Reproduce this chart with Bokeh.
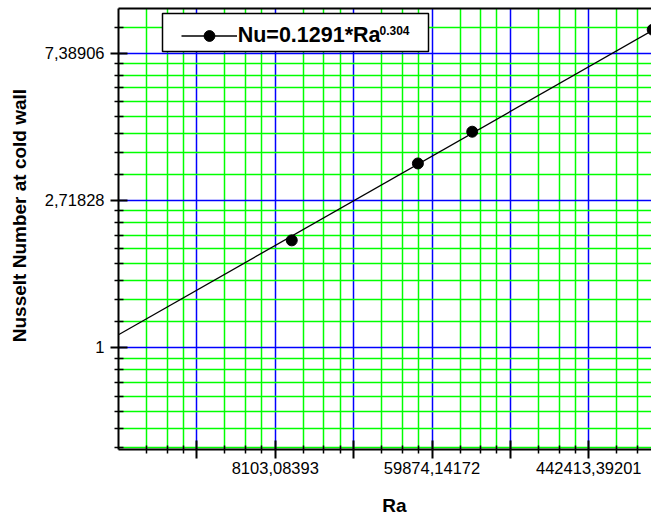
import math
from bokeh.plotting import figure
from bokeh.models import (FixedTicker, Legend, LegendItem, BoxAnnotation, Label,
                          LogAxis, Range1d)
from bokeh.embed import file_html
from bokeh.resources import INLINE

# ---- data ----
ra = [1.0e4, 5.0e4, 1.0e5, 1.0e6]
nu = [2.07, 3.49, 4.33, 8.66]
fit_ra = [1096.6, 1.0e6]
fit_nu = [1.09, 8.62]
legend_text = "Nu=0.1291*Ra"
legend_sup = "0.304"
x_title = "Ra"
y_title = "Nusselt Number at cold wall"

# axis ticks: powers of e
x_major_exp = [8, 9, 10, 11, 12, 13]
x_label_text = {9: "8103,08393", 11: "59874,14172", 13: "442413,39201"}
y_major_exp = [0, 1, 2]
y_label_text = {0: "1", 1: "2,71828", 2: "7,38906"}
x_lo, x_hi = math.exp(7), math.exp(13.8)
y_lo, y_hi = 0.5, 10.0
# where the original centres its axis titles (not at the frame centre)
x_title_at = math.exp(10.52)
y_title_at = math.exp(0.896)

x_major = [math.exp(k) for k in x_major_exp]
x_minor = []
for k in range(7, 14):
    a, b = math.exp(k), math.exp(k + 1)
    for j in range(1, 4):
        v = a + j * (b - a) / 4
        if x_lo < v < x_hi:
            x_minor.append(v)
y_major = [math.exp(k) for k in y_major_exp]
y_minor = []
for k in range(-1, 3):
    a, b = math.exp(k), math.exp(k + 1)
    for j in range(1, 9):
        v = a + j * (b - a) / 9
        if y_lo < v < y_hi:
            y_minor.append(v)

FONT = "Liberation Sans"

p = figure(width=651, height=520, x_axis_type="log", y_axis_type="log",
           x_range=Range1d(x_lo, x_hi), y_range=Range1d(y_lo, y_hi),
           output_backend="svg", toolbar_location=None,
           min_border_left=118, min_border_right=0, min_border_top=8,
           min_border_bottom=71)
p.outline_line_color = None
p.background_fill_color = "white"
p.border_fill_color = "white"

xt = FixedTicker(ticks=x_major, minor_ticks=x_minor)
yt = FixedTicker(ticks=y_major, minor_ticks=y_minor)

for ax, t in ((p.xaxis, xt), (p.yaxis, yt)):
    ax.ticker = t
    ax.axis_line_width = 2
    ax.axis_line_color = "black"
    ax.major_tick_line_width = 2
    ax.minor_tick_line_width = 1.5
    ax.major_tick_line_color = "black"
    ax.minor_tick_line_color = "black"
    ax.major_label_text_font = FONT
    ax.major_label_text_font_size = "16.5px"
    ax.major_label_text_color = "black"

p.xaxis.major_label_overrides = {math.exp(k): x_label_text.get(k, "") for k in x_major_exp}
p.yaxis.major_label_overrides = {math.exp(k): y_label_text.get(k, "") for k in y_major_exp}
p.xaxis.major_tick_in = 9
p.xaxis.major_tick_out = 9
p.xaxis.minor_tick_in = 4
p.xaxis.minor_tick_out = 4
p.xaxis.major_label_standoff = 3
p.yaxis.major_tick_in = 9
p.yaxis.major_tick_out = 8
p.yaxis.minor_tick_in = 5
p.yaxis.minor_tick_out = 4
p.yaxis.major_label_standoff = 6

p.xgrid.ticker = xt
p.ygrid.ticker = yt
for g in (p.xgrid, p.ygrid):
    g.grid_line_color = "#0000ff"
    g.grid_line_width = 1.5
    g.minor_grid_line_color = "#00ff00"
    g.minor_grid_line_width = 1.5


def title_axis(at, text, standoff, orientation):
    return LogAxis(ticker=FixedTicker(ticks=[at], minor_ticks=[]),
                   major_label_overrides={at: text},
                   axis_line_color=None, major_tick_line_color=None,
                   minor_tick_line_color=None,
                   major_tick_in=0, major_tick_out=0, minor_tick_in=0, minor_tick_out=0,
                   major_label_standoff=standoff, major_label_orientation=orientation,
                   major_label_text_font=FONT, major_label_text_font_size="19px",
                   major_label_text_font_style="bold", major_label_text_color="black")


p.add_layout(title_axis(x_title_at, x_title, 18, "horizontal"), "below")
p.add_layout(title_axis(y_title_at, y_title, 11, "parallel"), "left")

top_axis = LogAxis(ticker=FixedTicker(ticks=[]), axis_line_width=2, axis_line_color="black",
                   major_tick_in=0, major_tick_out=0, minor_tick_in=0, minor_tick_out=0,
                   major_label_text_font_size="0px", major_label_standoff=0)
p.add_layout(top_axis, "above")

line_r = p.line(fit_ra, fit_nu, line_color="black", line_width=1.3)
pts_r = p.scatter(ra, nu, size=11, fill_color="black", line_color="black")

box = BoxAnnotation(left=44, right=310, top=436, bottom=398,
                    left_units="screen", right_units="screen",
                    top_units="screen", bottom_units="screen",
                    fill_color="white", fill_alpha=1.0,
                    line_color="black", line_width=1.5, line_alpha=1.0)
p.add_layout(box)

legend = Legend(items=[LegendItem(label=legend_text, renderers=[line_r, pts_r])],
                location=(62.7, 400), padding=0, margin=0, spacing=0,
                glyph_width=56, glyph_height=27, label_height=27, label_standoff=1,
                border_line_alpha=0, background_fill_alpha=0,
                label_text_font=FONT, label_text_font_style="bold",
                label_text_font_size="21.5px", label_text_color="black")
p.add_layout(legend)

sup = Label(x=261, y=419, x_units="screen", y_units="screen", text=legend_sup,
            text_font=FONT, text_font_size="12px", text_font_style="bold",
            text_baseline="alphabetic", text_align="left", text_color="black")
p.add_layout(sup)

open("out.html", "w").write(file_html(p, INLINE))
